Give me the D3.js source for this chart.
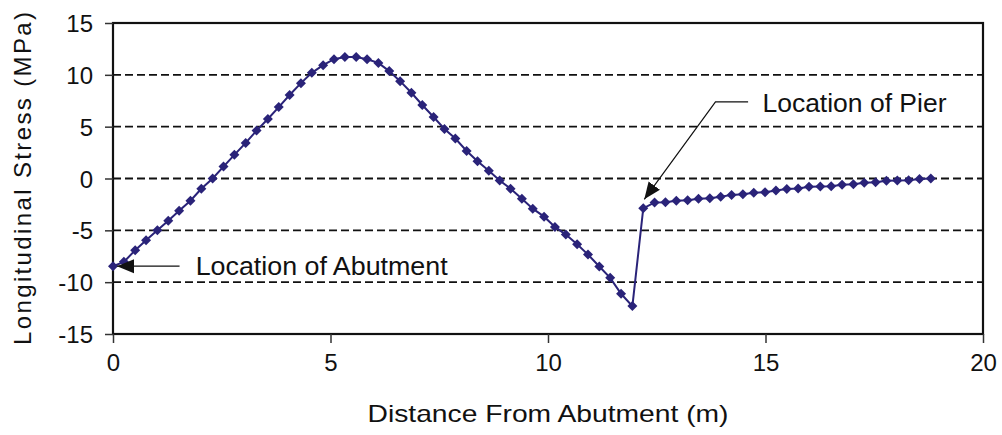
<!DOCTYPE html>
<html>
<head>
<meta charset="utf-8">
<script src="https://cdn.jsdelivr.net/npm/d3@7"></script>
<style>
  body { margin: 0; background: #fff; }
  text { font-family: "Liberation Sans", Arial, sans-serif; fill: #111; }
</style>
</head>
<body>
<script>
// distance from abutment (m)
var distance = [
  0.00, 0.25, 0.51, 0.76, 1.02, 1.27, 1.52, 1.78, 2.03, 2.29,
  2.54, 2.79, 3.05, 3.30, 3.56, 3.81, 4.06, 4.32, 4.57, 4.83,
  5.08, 5.33, 5.59, 5.84, 6.10, 6.35, 6.60, 6.86, 7.11, 7.37,
  7.62, 7.87, 8.13, 8.38, 8.64, 8.89, 9.14, 9.40, 9.65, 9.91,
  10.16, 10.41, 10.67, 10.92, 11.18, 11.43, 11.68, 11.94, 12.19, 12.45,
  12.70, 12.95, 13.21, 13.46, 13.72, 13.97, 14.22, 14.48, 14.73, 14.99,
  15.24, 15.49, 15.75, 16.00, 16.26, 16.51, 16.76, 17.02, 17.27, 17.53,
  17.78, 18.03, 18.29, 18.54, 18.80
];
// longitudinal stress (MPa)
var stress = [
  -8.46, -8.04, -6.92, -5.96, -5.00, -4.07, -3.11, -2.14, -0.99, 0.00,
  1.15, 2.28, 3.43, 4.62, 5.74, 6.89, 8.05, 9.20, 10.19, 10.93,
  11.51, 11.73, 11.73, 11.51, 11.15, 10.36, 9.39, 8.27, 7.09, 5.93,
  4.78, 3.85, 2.66, 1.67, 0.74, -0.19, -0.99, -1.95, -2.91, -3.68,
  -4.67, -5.41, -6.35, -7.34, -8.49, -9.58, -11.12, -12.31, -2.88, -2.31,
  -2.28, -2.14, -2.10, -1.95, -1.90, -1.75, -1.58, -1.52, -1.38, -1.33,
  -1.16, -1.02, -0.97, -0.80, -0.77, -0.74, -0.60, -0.56, -0.40, -0.36,
  -0.22, -0.19, -0.16, -0.04, 0.00
];
var xTicks = [0, 5, 10, 15, 20];
var yTicks = [-15, -10, -5, 0, 5, 10, 15];
var gridValues = [-10, -5, 0, 5, 10];

var W = 1002, H = 435;
var margin = { top: 23, right: 19, bottom: 101, left: 113 },
    width = W - margin.left - margin.right,
    height = H - margin.top - margin.bottom;
var col = "#2a2379";
var fmt = function (d) { return String(d); }; // plain hyphen minus

var svg = d3.select("body").append("svg")
    .attr("width", W).attr("height", H);

var defs = svg.append("defs");
defs.append("marker")
    .attr("id", "arrow")
    .attr("markerUnits", "userSpaceOnUse")
    .attr("markerWidth", 18).attr("markerHeight", 16)
    .attr("viewBox", "0 -8 18 16")
    .attr("refX", 17).attr("refY", 0)
    .attr("orient", "auto")
  .append("path")
    .attr("d", "M0,-7L17,0L0,7Z")
    .attr("fill", "#111");

var g = svg.append("g")
    .attr("transform", "translate(" + margin.left + "," + margin.top + ")");

var x = d3.scaleLinear().domain([0, 20]).range([0, width]);
var y = d3.scaleLinear().domain([-15, 15]).range([height, 0]);

// dashed grid
g.selectAll(".grid")
  .data(gridValues)
  .enter().append("line")
    .attr("class", "grid")
    .attr("x1", 0).attr("x2", width)
    .attr("y1", function (d) { return y(d); })
    .attr("y2", function (d) { return y(d); })
    .attr("stroke", "#111")
    .attr("stroke-width", 1.9)
    .attr("stroke-dasharray", "8,4");

// frame
g.append("rect")
    .attr("width", width).attr("height", height)
    .attr("fill", "none")
    .attr("stroke", "#111")
    .attr("stroke-width", 2.2);

var xAxis = g.append("g")
    .attr("transform", "translate(0," + height + ")")
    .call(d3.axisBottom(x).tickValues(xTicks).tickSize(9).tickPadding(10)
      .tickFormat(fmt));
var yAxis = g.append("g")
    .call(d3.axisLeft(y).tickValues(yTicks).tickSize(8).tickPadding(12)
      .tickFormat(fmt));

[xAxis, yAxis].forEach(function (a) {
  a.select(".domain").remove();
  a.selectAll(".tick line").attr("stroke", "#333").attr("stroke-width", 1.5);
  a.selectAll(".tick text")
    .style("font-family", "'Liberation Sans', Arial, sans-serif")
    .style("font-size", "24px")
    .attr("fill", "#111");
});
yAxis.selectAll(".tick text").attr("dy", "0.36em");
xAxis.selectAll(".tick text").attr("dy", "0.75em");

// data line
var pts = distance.map(function (d, i) { return [d, stress[i]]; });
g.append("path")
    .datum(pts)
    .attr("fill", "none")
    .attr("stroke", col)
    .attr("stroke-width", 2)
    .attr("d", d3.line()
      .x(function (d) { return x(d[0]); })
      .y(function (d) { return y(d[1]); }));

g.selectAll(".pt")
  .data(pts)
  .enter().append("path")
    .attr("class", "pt")
    .attr("d", "M0,-5L5,0L0,5L-5,0Z")
    .attr("fill", col)
    .attr("transform", function (d) {
      return "translate(" + x(d[0]) + "," + y(d[1]) + ")";
    });

// annotations
var ab = pts[0];
g.append("line")
    .attr("x1", x(1.53)).attr("y1", y(ab[1]))
    .attr("x2", x(ab[0]) + 4).attr("y2", y(ab[1]))
    .attr("stroke", "#111").attr("stroke-width", 1.2)
    .attr("marker-end", "url(#arrow)");
g.append("text")
    .attr("x", x(1.9)).attr("y", y(ab[1]) + 9)
    .style("font-size", "25px")
    .attr("textLength", 252)
    .attr("lengthAdjust", "spacingAndGlyphs")
    .text("Location of Abutment");

var pier = pts[48];
g.append("path")
    .attr("d", "M" + x(14.6) + "," + y(7.4) +
               "L" + x(13.85) + "," + y(7.4) +
               "L" + (x(pier[0]) + 1) + "," + (y(pier[1]) - 9))
    .attr("fill", "none")
    .attr("stroke", "#111").attr("stroke-width", 1.2)
    .attr("marker-end", "url(#arrow)");
g.append("text")
    .attr("x", x(14.93)).attr("y", y(6.4))
    .style("font-size", "25px")
    .attr("textLength", 184)
    .attr("lengthAdjust", "spacingAndGlyphs")
    .text("Location of Pier");

// axis titles
svg.append("text")
    .attr("x", margin.left + width / 2).attr("y", 422)
    .attr("text-anchor", "middle")
    .style("font-size", "24px")
    .attr("textLength", 361)
    .attr("lengthAdjust", "spacingAndGlyphs")
    .text("Distance From Abutment (m)");
svg.append("text")
    .attr("transform", "translate(31," + (margin.top + height / 2) + ") rotate(-90)")
    .attr("text-anchor", "middle")
    .style("font-size", "24px")
    .attr("textLength", 333)
    .attr("lengthAdjust", "spacing")
    .text("Longitudinal Stress (MPa)");
</script>
</body>
</html>
